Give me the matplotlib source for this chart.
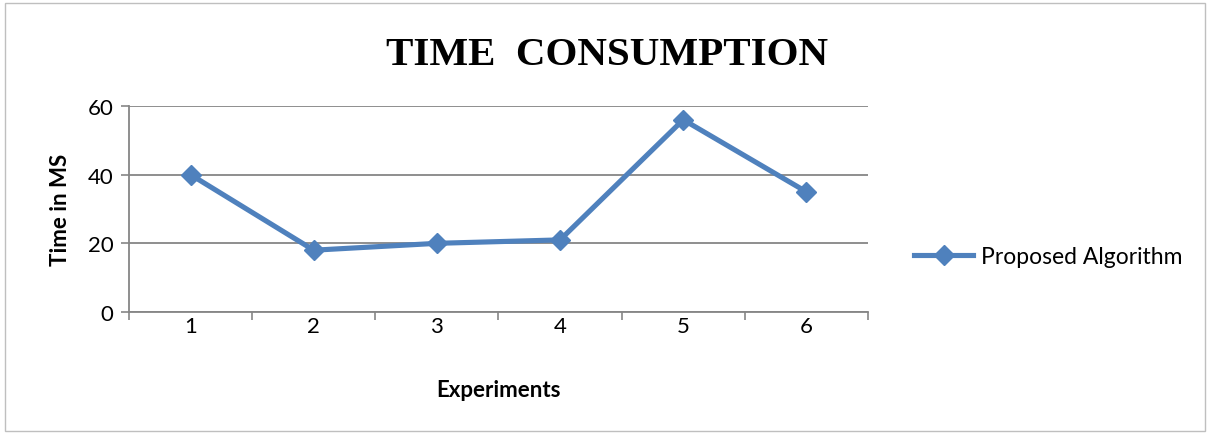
import matplotlib.pyplot as plt
from matplotlib.patches import Rectangle

# data
experiments = ['1', '2', '3', '4', '5', '6']
time_ms = [40, 18, 20, 21, 56, 35]
y_ticks = [0, 20, 40, 60]

blue = '#4F81BD'
grid_gray = '#868686'
sans = ['Lato', 'DejaVu Sans']

fig = plt.figure(figsize=(12.1, 4.35), dpi=100)

# thin frame round the whole chart, like the Excel chart area
fig.patches.append(Rectangle((0.004, 0.006), 0.992, 0.985, transform=fig.transFigure,
                             fill=False, edgecolor='#BFBFBF', linewidth=1))

ax = fig.add_axes([129 / 1210, 1 - 313 / 435, (868 - 129) / 1210, (313 - 107) / 435])

x = list(range(len(experiments)))
ax.plot(x, time_ms, color=blue, linewidth=3.7, marker='D', markersize=10.5,
        label='Proposed Algorithm')

ax.set_xlim(-0.5, len(experiments) - 0.5)
ax.set_ylim(0, 60)
ax.set_yticks(y_ticks)
ax.set_xticks(x)
ax.set_xticklabels(experiments)
ax.set_xticks([i - 0.5 for i in range(len(experiments) + 1)], minor=True)
ax.tick_params(axis='x', which='major', length=0, pad=3)
ax.tick_params(axis='x', which='minor', length=6, color=grid_gray, width=1.2)
ax.tick_params(axis='y', length=6, color=grid_gray, width=1.2, pad=5)
for lab in ax.get_xticklabels() + ax.get_yticklabels():
    lab.set_family(sans)
    lab.set_fontsize(16)

ax.grid(axis='y', color=grid_gray, linewidth=1.3)
ax.set_axisbelow(True)
for side in ['top', 'right']:
    ax.spines[side].set_visible(False)
for side in ['left', 'bottom']:
    ax.spines[side].set_color(grid_gray)
    ax.spines[side].set_linewidth(1.3)

ax.set_xlabel('Experiments', family=sans, fontsize=16, fontweight='bold', labelpad=31)
ax.set_ylabel('Time in MS', family=sans, fontsize=16, fontweight='bold', labelpad=12)

fig.text(0.502, 0.872, 'TIME  CONSUMPTION', ha='center', va='center',
         family=['Liberation Serif', 'DejaVu Serif'], fontweight='bold', fontsize=29.5)

ax.legend(loc='center left', bbox_to_anchor=(1.034, 0.267), frameon=False,
          prop={'family': sans, 'size': 16.5}, handlelength=2.6, handletextpad=0.35)

fig.savefig('out.png', dpi=100)
